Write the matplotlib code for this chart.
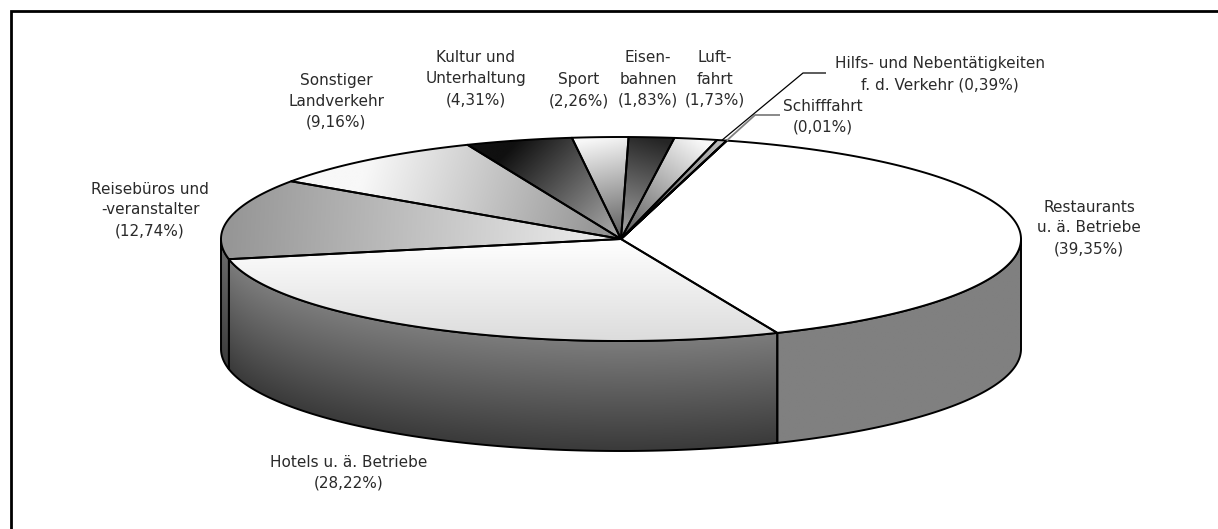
import numpy as np
import matplotlib
matplotlib.use("Agg")
import matplotlib.pyplot as plt
from matplotlib.patches import Polygon
from matplotlib.colors import to_rgb

# slices, counter-clockwise starting at the front right (Excel 3-D pie)
categories = ["Restaurants\nu. ä. Betriebe", "Schifffahrt",
              "Hilfs- und Nebentätigkeiten\nf. d. Verkehr", "Luft-\nfahrt",
              "Eisen-\nbahnen", "Sport", "Kultur und\nUnterhaltung",
              "Sonstiger\nLandverkehr", "Reisebüros und\n-veranstalter",
              "Hotels u. ä. Betriebe"]
shares = [39.35, 0.01, 0.39, 1.73, 1.83, 2.26, 4.31, 9.16, 12.74, 28.22]
pct_sep = ["\n", "\n", " ", "\n", "\n", "\n", "\n", "\n", "\n", "\n"]

# styling: (outer colour, inner colour, gradient mode) for the top faces
top_style = [("#ffffff", "#ffffff", "flat"),
             ("#9a9a9a", "#9a9a9a", "flat"),
             ("#c0c0c0", "#454545", "radial"),
             ("#f8f8f8", "#555555", "radial"),
             ("#252525", "#a8a8a8", "radial"),
             ("#f8f8f8", "#5a5a5a", "radial"),
             ("#101010", "#b0b0b0", "radial"),
             ("#f8f8f8", "#8c8c8c", "radial"),
             ("#969696", "#f0f0f0", "radial"),
             ("#ffffff", "#dcdcdc", "vertical")]
# side walls: (top colour, bottom colour)
wall_style = [("#808080", "#808080")] * 8 + [("#686868", "#3c3c3c"),
                                             ("#7c7c7c", "#3a3a3a")]

# layout in pixels
W, H = 1218, 529
cx, cy, rx, ry, depth = 621, 239, 400, 102, 110
start_angle = -67
label_xy = [(1089, 228), (823, 117), (940, 74), (715, 79), (648, 79),
            (579, 90), (476, 79), (336, 101), (150, 210), (349, 473)]
leaders = {1: ((755, 115), (780, 115), "#808080", 1.3),
           2: ((803, 73), (826, 73), "black", 0.9)}

fig = plt.figure(figsize=(W / 100, H / 100), dpi=100)
ax = fig.add_axes([0, 0, 1, 1])


def ell(th, dy=0.0):
    return cx + rx * np.cos(th), cy - ry * np.sin(th) + dy


def grid(verts, n=300):
    x0, y0 = verts.min(axis=0)
    x1, y1 = verts.max(axis=0)
    X, Y = np.meshgrid(np.linspace(x0, x1, n), np.linspace(y0, y1, n))
    return X, Y, (x0, x1, y0, y1)


def paint(poly, t, ext, c0, c1, z):
    c0, c1 = np.array(to_rgb(c0)), np.array(to_rgb(c1))
    img = c0 + np.clip(t, 0, 1)[..., None] * (c1 - c0)
    im = ax.imshow(img, extent=ext, origin="lower", aspect="auto",
                   interpolation="bilinear", zorder=z)
    im.set_clip_path(poly)


edges = start_angle + 360 * np.concatenate([[0], np.cumsum(shares)]) / sum(shares)

# front side walls
for i in range(len(shares)):
    t0, t1 = edges[i], edges[i + 1]
    for k in (-360, 0, 360):
        lo, hi = max(t0, 180 + k), min(t1, 360 + k)
        if hi <= lo:
            continue
        th = np.radians(np.linspace(lo, hi, 150))
        xs, ys = ell(th)
        verts = np.vstack([np.column_stack([xs, ys]),
                           np.column_stack([xs, ys + depth])[::-1]])
        poly = Polygon(verts, closed=True, fc="none", ec="black", lw=1.4,
                       joinstyle="round", zorder=3)
        ax.add_patch(poly)
        X, Y, ext = grid(verts)
        ytop = cy + ry * np.sqrt(np.clip(1 - ((X - cx) / rx) ** 2, 0, 1))
        paint(poly, (Y - ytop) / depth, ext, *wall_style[i], z=2)

# top faces
for i in range(len(shares)):
    t0, t1 = edges[i], edges[i + 1]
    th = np.radians(np.linspace(t0, t1, max(3, int((t1 - t0) * 2) + 2)))
    xs, ys = ell(th)
    verts = np.vstack([[cx, cy], np.column_stack([xs, ys])])
    c_out, c_in, mode = top_style[i]
    poly = Polygon(verts, closed=True, ec="black", lw=1.4, joinstyle="round",
                   fc=c_out if mode == "flat" else "none", zorder=6)
    ax.add_patch(poly)
    if mode == "flat":
        continue
    X, Y, ext = grid(verts)
    if mode == "vertical":
        t = (Y - ext[2]) / (ext[3] - ext[2])
    else:
        px, py = ell(np.radians((t0 + t1) / 2))
        dx, dy = cx - px, cy - py
        t = ((X - px) * dx + (Y - py) * dy) / (dx * dx + dy * dy)
    paint(poly, t, ext, c_out, c_in, z=5)

# leader lines for the two thin slices
for i, (elbow, end, col, lw) in leaders.items():
    px, py = ell(np.radians((edges[i] + edges[i + 1]) / 2))
    ax.plot([px, elbow[0], end[0]], [py, elbow[1], end[1]], color=col,
            lw=lw, zorder=7, solid_capstyle="butt")

# labels
for name, v, sep, (lx, ly) in zip(categories, shares, pct_sep, label_xy):
    txt = name + sep + "(" + f"{v:.2f}".replace(".", ",") + "%)"
    ax.text(lx, ly, txt, ha="center", va="center", multialignment="center",
            fontsize=11, color="#2a2a2a", linespacing=1.5,
            family="DejaVu Sans", zorder=8)

# chart-area frame (right and bottom edges fall outside the picture)
ax.plot([11, 11, W + 10], [H + 10, 11, 11], color="black", lw=2.0,
        solid_joinstyle="miter", zorder=9)

ax.set_xlim(0, W)
ax.set_ylim(H, 0)
ax.axis("off")
fig.savefig("out.png", dpi=100)
plt.close(fig)
